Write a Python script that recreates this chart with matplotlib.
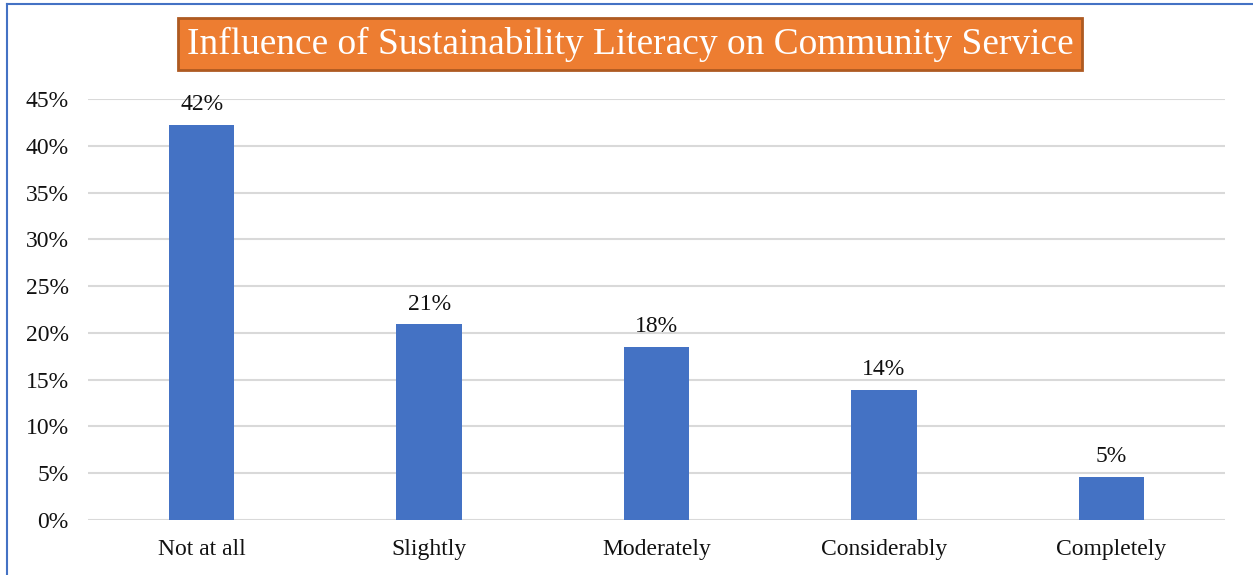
import matplotlib
matplotlib.use("Agg")
import matplotlib.pyplot as plt
from matplotlib.lines import Line2D
from matplotlib.ticker import PercentFormatter

categories = ["Not at all", "Slightly", "Moderately", "Considerably", "Completely"]
shares = [0.422, 0.209, 0.185, 0.139, 0.046]
y_ticks = [0, 0.05, 0.10, 0.15, 0.20, 0.25, 0.30, 0.35, 0.40, 0.45]
title = "Influence of Sustainability Literacy on Community Service"

W, H = 1253, 575
fig = plt.figure(figsize=(W / 100, H / 100), dpi=100)
plt.rcParams["font.family"] = ["Liberation Serif", "DejaVu Serif"]

ax = fig.add_axes([88 / W, 1 - 520 / H, (1225 - 88) / W, (520 - 99) / H])
x = range(len(categories))
ax.bar(x, shares, width=0.287, color="#4472C4", zorder=3)
for xi, v in zip(x, shares):
    ax.annotate(f"{v:.0%}", (xi, v), xytext=(0, 7), textcoords="offset points",
                ha="center", va="bottom", fontsize=17, color="#111111")

ax.set_xlim(-0.5, len(categories) - 0.5)
ax.set_ylim(0, 0.45)
ax.set_yticks(y_ticks)
ax.yaxis.set_major_formatter(PercentFormatter(1.0, decimals=0))
ax.set_xticks(list(x))
ax.set_xticklabels(categories)
ax.tick_params(axis="both", length=0, labelsize=17, labelcolor="#111111")
ax.tick_params(axis="y", pad=14)
ax.tick_params(axis="x", pad=14)
ax.grid(axis="y", color="#D9D9D9", linewidth=1.5, zorder=0)
for s in ax.spines.values():
    s.set_visible(False)

fig.text(630 / W, 1 - 44 / H, title, ha="center", va="center", fontsize=26.9,
         color="white",
         bbox=dict(boxstyle="square,pad=0.22", facecolor="#ED7D31",
                   edgecolor="#AE5A21", linewidth=2))

# frame lines along the left and top edges
fig.add_artist(Line2D([6.5 / W, 6.5 / W], [0, 1 - 3.5 / H], color="#4472C4", linewidth=1.5))
fig.add_artist(Line2D([6.5 / W, 1], [1 - 3.5 / H, 1 - 3.5 / H], color="#4472C4", linewidth=1.5))

fig.savefig("out.png", dpi=100)
